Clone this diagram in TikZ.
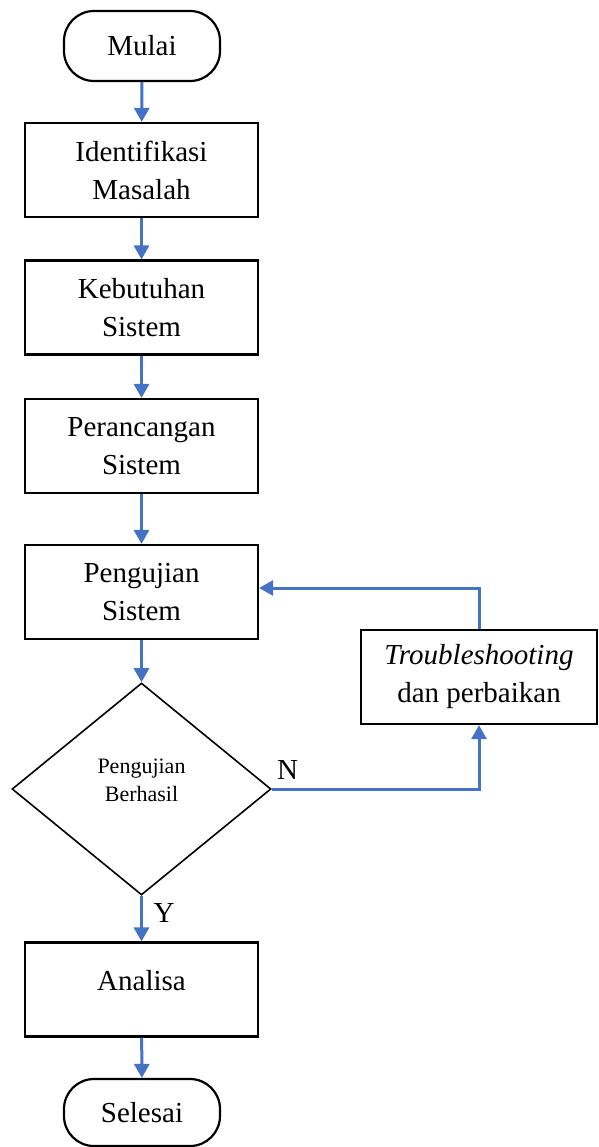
\documentclass[tikz,border=0pt]{standalone}
\usepackage{fontspec}
\setmainfont{Liberation Serif}
\usetikzlibrary{shapes.geometric,arrows.meta,positioning}
\definecolor{panah}{RGB}{68,114,196}

\begin{document}
\begin{tikzpicture}[x=0.5pt,y=-0.5pt,
    proses/.style={draw,line width=1.1pt,minimum width=116.5pt,minimum height=47pt,
      align=center,inner sep=2pt,font=\fontsize{14.5}{19}\selectfont},
    terminal/.style={draw,line width=1.1pt,rounded corners=15pt,minimum width=78pt,
      minimum height=35pt,font=\fontsize{14.5}{19}\selectfont},
    keputusan/.style={draw,diamond,line width=0.8pt,minimum width=129.5pt,
      minimum height=106pt,inner sep=0pt,align=center,font=\fontsize{11}{14}\selectfont},
    alur/.style={draw=panah,line width=1.5pt,-{Triangle[width=7.5pt,length=7pt]}},
    ket/.style={inner sep=0pt,font=\fontsize{14.5}{17}\selectfont}]
      \useasboundingbox (0,0) rectangle (599,1147);
      % Nodes
      \node[terminal] (mulai) at (142,46) {Mulai};
      \node[proses] (identifikasi) at (141.5,170) {Identifikasi\\Masalah};
      \node[proses] (kebutuhan) at (141.5,307.5) {Kebutuhan\\Sistem};
      \node[proses] (perancangan) at (141.5,446) {Perancangan\\Sistem};
      \node[proses] (pengujian) at (141.5,592) {Pengujian\\Sistem};
      \node[keputusan] (cek) at (141.5,789) {Pengujian\\Berhasil\rule[-9pt]{0pt}{0pt}};
      \node[proses,minimum width=118pt] (trouble) at (479,677) {\textit{Troubleshooting}\\dan perbaikan};
      \node[proses] (analisa) at (141.5,989.5) {Analisa\rule[-9pt]{0pt}{0pt}};
      \node[terminal,minimum height=33.5pt] (selesai) at (142,1112.5) {Selesai};
      % Labels
      \node[ket] (tidak) at (287.5,770) {N};
      \node[ket] (ya) at (164,913) {Y};
      % Arrows
      \draw[alur] (mulai) -- (identifikasi);
      \draw[alur] (identifikasi) -- (kebutuhan);
      \draw[alur] (kebutuhan) -- (perancangan);
      \draw[alur] (perancangan) -- (pengujian);
      \draw[alur] (pengujian) -- (cek);
      \draw[alur] (cek.east) -| (trouble.south);
      \draw[alur] (trouble.north) |- ([yshift=2pt]pengujian.east);
      \draw[alur] (cek.south) -- (analisa.north);
      \draw[alur] (analisa) -- (selesai);
    \end{tikzpicture}
\end{document}
